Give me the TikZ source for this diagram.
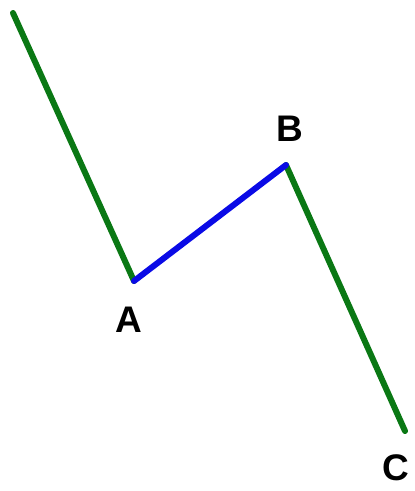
\documentclass[tikz,border=0pt]{standalone}
\usepackage{fontspec}
\setmainfont{Liberation Sans}
\definecolor{lgreen}{RGB}{10,120,20}
\definecolor{lblue}{RGB}{10,10,230}
\begin{document}
\begin{tikzpicture}[x=1pt,y=-1pt,
  seg/.style={line width=6pt,line cap=round,line join=round},
  lbl/.style={font=\fontsize{37}{37}\selectfont\bfseries,inner sep=0pt}]
\useasboundingbox (0,0) rectangle (415,491);
\coordinate (S) at (13,13);
\coordinate (A) at (134,281);
\coordinate (B) at (286,165);
\coordinate (E) at (405,431);
\draw[seg,lgreen] (S) -- (A);
\draw[seg,lgreen] (B) -- (E);
\draw[seg,lblue] (A) -- (B);
\node[lbl] (la) at (129,320) {A};
\node[lbl] (lb) at (290,129) {B};
\node[lbl] (lc) at (396,468) {C};
\end{tikzpicture}
\end{document}
